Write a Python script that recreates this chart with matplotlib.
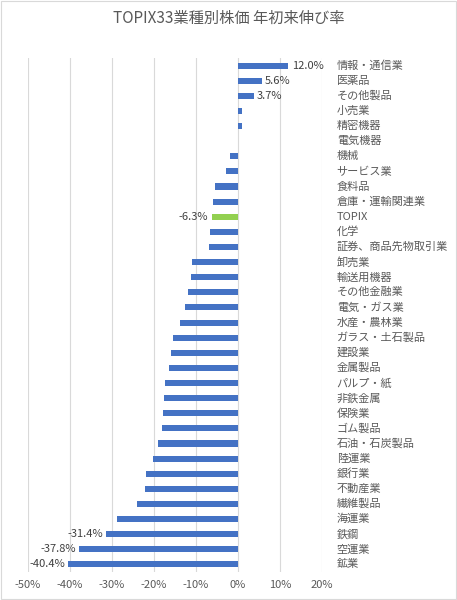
import matplotlib
matplotlib.use("Agg")
import matplotlib.pyplot as plt
from matplotlib.ticker import FuncFormatter

plt.rcParams['font.family'] = ['Noto Sans CJK JP', 'DejaVu Sans']

categories = ["情報・通信業", "医薬品", "その他製品", "小売業", "精密機器", "電気機器", "機械",
              "サービス業", "食料品", "倉庫・運輸関連業", "TOPIX", "化学", "証券、商品先物取引業",
              "卸売業", "輸送用機器", "その他金融業", "電気・ガス業", "水産・農林業", "ガラス・土石製品",
              "建設業", "金属製品", "パルプ・紙", "非鉄金属", "保険業", "ゴム製品", "石油・石炭製品",
              "陸運業", "銀行業", "不動産業", "繊維製品", "海運業", "鉄鋼", "空運業", "鉱業"]
values = [12.0, 5.6, 3.7, 1.0, 1.0, 0.1, -2.0, -2.9, -5.4, -5.9, -6.3, -6.6, -6.8,
          -10.9, -11.1, -12.0, -12.5, -13.8, -15.4, -16.0, -16.4, -17.4, -17.6, -17.9, -18.1,
          -19.0, -20.3, -21.9, -22.1, -24.0, -28.7, -31.4, -37.8, -40.4]
labeled = ["情報・通信業", "医薬品", "その他製品", "TOPIX", "鉄鋼", "空運業", "鉱業"]
xticks = [-50, -40, -30, -20, -10, 0, 10, 20]

fig = plt.figure(figsize=(4.57, 6.0), dpi=100)
ax = fig.add_axes([28/457, 28/600, 294/457, 514/600])
n = len(categories)
ys = list(range(n))
colors = ['#92D050' if c == "TOPIX" else '#4472C4' for c in categories]
ax.barh(ys, values, height=0.4, color=colors, zorder=3)
ax.set_ylim(n - 0.5, -0.5)
ax.set_xlim(-50, 20)
ax.set_xticks(xticks)
ax.xaxis.set_major_formatter(FuncFormatter(lambda v, p: f"{int(v)}%"))
ax.set_yticks([])
ax.grid(axis='x', color='#D9D9D9', linewidth=0.8, zorder=0)
for s in ax.spines.values():
    s.set_visible(False)
ax.tick_params(axis='x', length=0, labelsize=8, colors='#595959', pad=6)

for y, c, v in zip(ys, categories, values):
    ax.text(23.5, y, c, va='center', ha='left', fontsize=8, color='#595959', clip_on=False)
    if c in labeled:
        if v >= 0:
            ax.text(v + 0.8, y, f"{v:.1f}%", va='center', ha='left', fontsize=8, color='#404040')
        else:
            ax.text(v - 0.8, y, f"{v:.1f}%", va='center', ha='right', fontsize=8, color='#404040')

fig.text(0.5, 1 - 18/600, "TOPIX33業種別株価 年初来伸び率", ha='center', va='center',
         fontsize=11, color='#595959')
fig.patches.append(plt.Rectangle((0.002, 0.002), 0.996, 0.996, transform=fig.transFigure,
                                 fill=False, edgecolor='#D9D9D9', linewidth=0.8))
fig.savefig("out.png", dpi=100)
